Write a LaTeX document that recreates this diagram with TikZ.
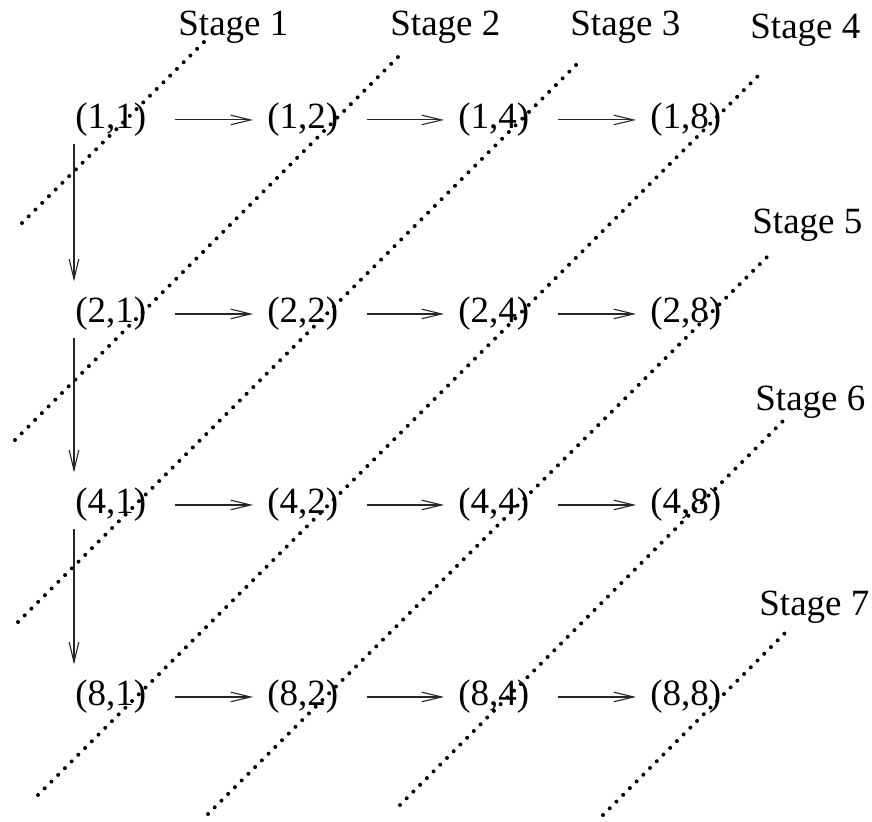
\documentclass[tikz,border=0pt]{standalone}
\usepackage{fontspec}
\setmainfont{Liberation Serif}
\usetikzlibrary{arrows.meta}
\begin{document}
\begin{tikzpicture}[x=0.5pt,y=-0.5pt,
  cell/.style={anchor=base west, inner sep=0pt, text height=12.66pt, text depth=4.6pt,
    font=\fontsize{18.5pt}{22pt}\selectfont},
  stagelbl/.style={anchor=base west, inner sep=0pt, font=\fontsize{18.5pt}{22pt}\selectfont},
  arr/.style={draw=black!85, line width=0.55pt, -{Straight Barb[length=10pt,width=4.8pt]}},
  harr/.style={arr, shorten <=14pt, shorten >=7pt},
  varr/.style={arr, shorten <=3pt, shorten >=7.4pt},
  sep/.style={line width=2pt, line cap=round, dash pattern=on 0pt off 4.75pt}]
\useasboundingbox (0,0) rectangle (872,821);

% dotted stage separators
\coordinate (s1a) at (22,223);  \coordinate (s1b) at (205,41);
\coordinate (s2a) at (15,440);  \coordinate (s2b) at (400,55);
\coordinate (s3a) at (18,622);  \coordinate (s3b) at (577,64);
\coordinate (s4a) at (38,795);  \coordinate (s4b) at (759,75);
\coordinate (s5a) at (208,814); \coordinate (s5b) at (767,257);
\coordinate (s6a) at (400,805); \coordinate (s6b) at (783,421);
\coordinate (s7a) at (603,815); \coordinate (s7b) at (786,632);
\foreach \i in {1,...,7} {\draw[sep] (s\i a) -- (s\i b);}

% stage labels
\node[stagelbl] (st1) at (178,35) {Stage 1};
\node[stagelbl] (st2) at (390,35) {Stage 2};
\node[stagelbl] (st3) at (570,35) {Stage 3};
\node[stagelbl] (st4) at (750,38) {Stage 4};
\node[stagelbl] (st5) at (752,233) {Stage 5};
\node[stagelbl] (st6) at (755,410) {Stage 6};
\node[stagelbl] (st7) at (759,615) {Stage 7};

% cells
\node[cell] (n11) at (75,128) {(1,1)};
\node[cell] (n12) at (267,128) {(1,2)};
\node[cell] (n14) at (458,128) {(1,4)};
\node[cell] (n18) at (650,128) {(1,8)};
\node[cell] (n21) at (75,322) {(2,1)};
\node[cell] (n22) at (267,322) {(2,2)};
\node[cell] (n24) at (458,322) {(2,4)};
\node[cell] (n28) at (650,322) {(2,8)};
\node[cell] (n41) at (75,513) {(4,1)};
\node[cell] (n42) at (267,513) {(4,2)};
\node[cell] (n44) at (458,513) {(4,4)};
\node[cell] (n48) at (650,513) {(4,8)};
\node[cell] (n81) at (75,705) {(8,1)};
\node[cell] (n82) at (267,705) {(8,2)};
\node[cell] (n84) at (458,705) {(8,4)};
\node[cell] (n88) at (650,705) {(8,8)};

% horizontal arrows
\foreach \r in {1,2,4,8} {
  \draw[harr] (n\r1.east) -- (n\r2.west);
  \draw[harr] (n\r2.east) -- (n\r4.west);
  \draw[harr] (n\r4.east) -- (n\r8.west);
}
% vertical arrows
\draw[varr] ([xshift=-0.5pt]n11.south west) -- ([xshift=-0.5pt]n21.north west);
\draw[varr] ([xshift=-0.5pt]n21.south west) -- ([xshift=-0.5pt]n41.north west);
\draw[varr] ([xshift=-0.5pt]n41.south west) -- ([xshift=-0.5pt]n81.north west);
\end{tikzpicture}
\end{document}
